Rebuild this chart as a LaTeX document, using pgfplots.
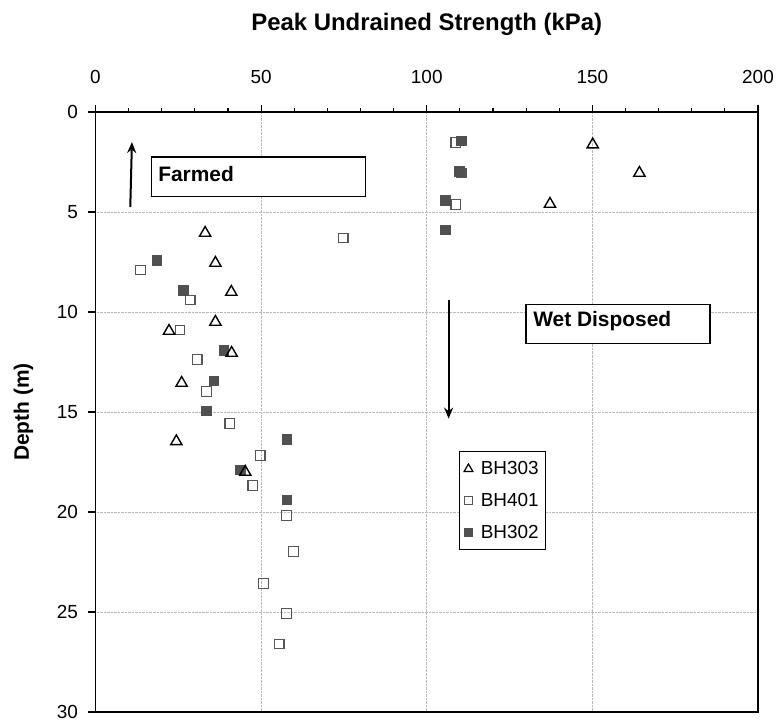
\documentclass[border=0pt]{standalone}
\usepackage{pgfplots}
\pgfplotsset{compat=1.18}
\usepackage{fontspec}
\setmainfont{Liberation Sans}
\usetikzlibrary{arrows.meta}
\definecolor{fillg}{HTML}{505050}
\definecolor{edgeg}{HTML}{555555}
\begin{document}
\begin{tikzpicture}
\begin{axis}[
  at={(0,0)}, anchor=south west,
  scale only axis, width=662.5bp, height=600bp,
  xmin=0, xmax=200, ymin=0, ymax=30, y dir=reverse,
  xtick={0,50,...,200}, ytick={0,5,...,30},
  minor x tick num=4,
  xtick pos=right, xticklabel pos=right, ytick pos=left,
  tick align=outside,
  major tick length=7bp, minor tick length=4bp,
  every tick/.style={black, line width=1.2bp},
  axis line style={line width=1.6bp},
  xmajorgrids, ymajorgrids,
  grid style={gray!55, densely dotted, line width=0.8bp},
  /pgf/number format/assume math mode=true,
  tick label style={font=\fontsize{19}{22}\selectfont},
  xticklabel style={yshift=18bp},
  yticklabel style={xshift=-7bp},
  clip=false,
  legend style={at={(0.548,0.435)}, anchor=north west, draw=black, line width=1.2bp,
    font=\fontsize{19}{22}\selectfont, row sep=13bp, inner xsep=5bp, inner ysep=8bp,
    /tikz/every odd column/.append style={column sep=6bp}},
  legend cell align=left,
]
\addlegendimage{only marks, mark=triangle, mark size=5bp, mark options={draw=black, fill=white, line width=1.2bp}}
\addlegendentry{BH303}
\addlegendimage{only marks, mark=square, mark size=3.8bp, mark options={draw=edgeg, fill=white, line width=1.2bp}}
\addlegendentry{BH401}
\addlegendimage{only marks, mark=square*, mark size=3.8bp, mark options={draw=fillg, fill=fillg, line width=0.5bp}}
\addlegendentry{BH302}

\addplot[forget plot, only marks, mark=square, mark size=4.8bp, mark options={draw=edgeg, fill=white, line width=1.3bp}] coordinates {
(108.8,1.53) (110.4,3.05) (108.8,4.63) (74.8,6.3) (13.6,7.9) (28.6,9.4) (25.5,10.9)
(30.7,12.37) (33.5,13.97) (40.5,15.57) (49.7,17.18) (47.5,18.67) (57.7,20.18)
(59.8,21.97) (50.7,23.58) (57.7,25.08) (55.5,26.6)
};
\addplot[forget plot, only marks, mark=square*, mark size=4.8bp, mark options={draw=fillg, fill=fillg, line width=0.5bp}] coordinates {
(110.4,1.43) (109.9,2.97) (105.5,4.4) (105.5,5.88) (18.5,7.4) (26.5,8.9) (38.7,11.9)
(35.7,13.43) (33.5,14.93) (57.7,16.37) (43.7,17.88) (57.7,19.38)
};
\addplot[forget plot, only marks, mark=triangle, mark size=6.5bp, mark options={draw=black, fill=white, line width=1.4bp}] coordinates {
(150.1,1.63) (164.2,3.05) (137.2,4.6) (33.1,6.05) (36.2,7.55) (41.0,9.0) (36.2,10.5)
(22.2,10.95) (41.1,12.05) (26.0,13.55) (24.4,16.47) (45.2,18.0)
};

% annotations
\draw[line width=1.5bp, fill=white] (axis cs:16.97,2.25) rectangle (axis cs:81.46,4.215);
\node[anchor=west, inner sep=0pt, font=\bfseries\fontsize{21}{24}\selectfont] at (axis cs:18.9,3.1) {Farmed};
\draw[line width=1.5bp, fill=white] (axis cs:130.0,9.615) rectangle (axis cs:185.5,11.58);
\node[anchor=west, inner sep=0pt, font=\bfseries\fontsize{21}{24}\selectfont] at (axis cs:132.1,10.44) {Wet Disposed};
\draw[line width=2bp, -{Stealth[length=11bp, width=9bp]}] (axis cs:10.5,4.75) -- (axis cs:11.0,1.5);
\draw[line width=2bp, -{Stealth[length=11bp, width=9bp]}] (axis cs:106.6,9.38) -- (axis cs:106.6,15.33);

\node[font=\bfseries\fontsize{24}{28}\selectfont] at ([yshift=88bp]axis description cs:0.5,1) {Peak Undrained Strength (kPa)};
\node[font=\bfseries\fontsize{21}{24}\selectfont, rotate=90] at ([xshift=-72bp]axis description cs:0,0.5) {Depth (m)};
\end{axis}
\pgfresetboundingbox
\useasboundingbox (-95.5bp,-8bp) rectangle (683.5bp,712bp);
\end{tikzpicture}
\end{document}
